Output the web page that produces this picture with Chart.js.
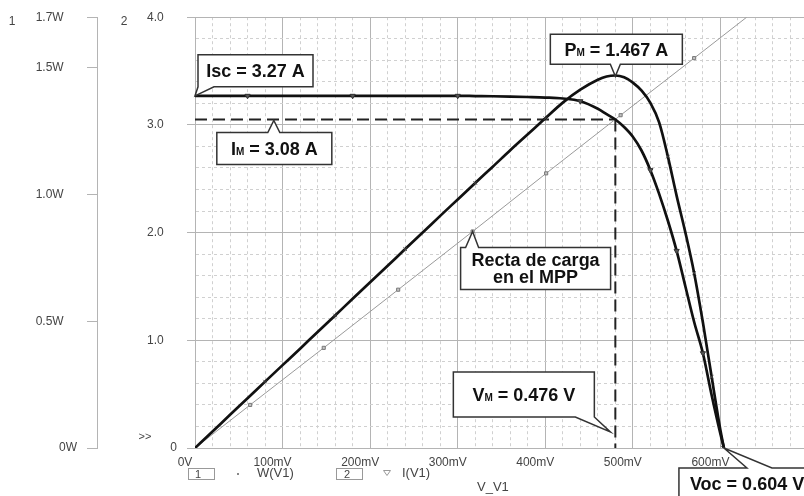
<!DOCTYPE html>
<html>
<head>
<meta charset="utf-8">
<script src="https://cdn.jsdelivr.net/npm/chart.js@4.4.1/dist/chart.umd.min.js"></script>
<style>
  html, body { margin: 0; padding: 0; background: #fff; overflow: hidden; }
  #wrap { width: 804px; height: 496px; overflow: hidden; }
</style>
</head>
<body>
<div id="wrap"><canvas id="chart" width="815" height="496"></canvas></div>
<script>
// sweep voltage (mV), shared by both traces
const vMv = [0, 20, 40, 60, 80, 100, 120, 140, 160, 180, 200, 220, 240, 260, 280, 300, 320, 340, 360, 380,
  400, 420, 440, 460, 470, 480, 490, 500, 510, 520, 530, 540, 550, 560, 570, 580, 590, 600, 604];
const currentA = [3.27, 3.27, 3.27, 3.27, 3.27, 3.27, 3.27, 3.27, 3.27, 3.27, 3.27, 3.27, 3.27, 3.27, 3.27, 3.27, 3.268, 3.266, 3.263, 3.259,
  3.254, 3.245, 3.22, 3.15, 3.10, 3.05, 2.98, 2.89, 2.76, 2.58, 2.36, 2.11, 1.83, 1.50, 1.17, 0.88, 0.49, 0.13, 0];
const powerW = [0, 0.065, 0.131, 0.196, 0.262, 0.327, 0.392, 0.458, 0.523, 0.589, 0.654, 0.719, 0.785, 0.850, 0.916, 0.981, 1.046, 1.110, 1.175, 1.238,
  1.301, 1.363, 1.414, 1.453, 1.466, 1.470, 1.463, 1.442, 1.410, 1.362, 1.285, 1.150, 0.995, 0.850, 0.690, 0.495, 0.280, 0.070, 0];
// load line through the MPP
const loadV = [0, 63, 147, 232, 317, 401, 486, 570, 630];
const loadI = [0, 0.40, 0.93, 1.47, 2.01, 2.55, 3.09, 3.62, 4.0];
// trace markers
const iMarkV = [60, 180, 300, 440, 520, 550, 580];
const pMarkV = [80, 160, 240, 320, 400, 540, 570, 590];
// MPP guides and key values
const mppV = 480, mppI = 3.05, pmW = 1.467, iscA = 3.27, vocMv = 604;
const wTicks = [0, 0.5, 1.0, 1.5, 1.7];

const FONT = "'Liberation Sans', Arial, sans-serif";
Chart.defaults.font.family = FONT;
const GRID = '#b4b4b4', MINOR = '#d0d0d0', TXT = '#444';

const isWhole = v => Math.abs(v - Math.round(v)) < 1e-6;
const xMajor = c => c.tick && Math.round(c.tick.value) % 100 === 0;
const aMajor = c => c.tick && isWhole(c.tick.value);

function calloutPath(ctx, b, tail) {
  const r = b.l + b.w, btm = b.t + b.h;
  ctx.beginPath();
  ctx.moveTo(b.l, b.t);
  if (tail.side === 'top') { ctx.lineTo(tail.a, b.t); ctx.lineTo(tail.tip[0], tail.tip[1]); ctx.lineTo(tail.c, b.t); }
  ctx.lineTo(r, b.t);
  ctx.lineTo(r, btm);
  if (tail.side === 'bottom') { ctx.lineTo(tail.c, btm); ctx.lineTo(tail.tip[0], tail.tip[1]); ctx.lineTo(tail.a, btm); }
  ctx.lineTo(b.l, btm);
  ctx.closePath();
  ctx.fillStyle = '#fff';
  ctx.fill();
  ctx.lineWidth = 1.5;
  ctx.strokeStyle = '#333';
  ctx.stroke();
}

function richText(ctx, parts, x, y, align) {
  let w = 0;
  parts.forEach(([t, s]) => { ctx.font = `bold ${s}px ${FONT}`; w += ctx.measureText(t).width; });
  let cx = align === 'left' ? x : x - w / 2;
  ctx.textAlign = 'left';
  ctx.textBaseline = 'alphabetic';
  ctx.fillStyle = '#111';
  parts.forEach(([t, s]) => {
    ctx.font = `bold ${s}px ${FONT}`;
    ctx.fillText(t, cx, y);
    cx += ctx.measureText(t).width;
  });
}

const overlay = {
  id: 'overlay',
  afterDatasetsDraw(chart) {
    const { ctx, scales: { x, yA, yW } } = chart;
    ctx.save();

    // Isc
    let tip = [x.getPixelForValue(0), yA.getPixelForValue(iscA)];
    let b = { l: tip[0] + 3, t: tip[1] - 41, w: 115, h: 32 };
    calloutPath(ctx, b, { side: 'bottom', a: b.l, c: b.l + 16, tip });
    richText(ctx, [['Isc = 3.27 A', 18]], b.l + b.w / 2, b.t + b.h / 2 + 6.5);

    // IM
    tip = [x.getPixelForValue(90), yA.getPixelForValue(mppI) + 1];
    b = { l: tip[0] - 57, t: tip[1] + 12, w: 115, h: 32 };
    calloutPath(ctx, b, { side: 'top', a: tip[0] - 6, c: tip[0] + 6, tip });
    richText(ctx, [['I', 18], ['M', 10], [' = 3.08 A', 18]], b.l + b.w / 2, b.t + b.h / 2 + 6.5);

    // PM
    tip = [x.getPixelForValue(mppV), yW.getPixelForValue(pmW)];
    b = { l: tip[0] - 65, t: tip[1] - 42, w: 132, h: 30 };
    calloutPath(ctx, b, { side: 'bottom', a: tip[0] - 5, c: tip[0] + 5, tip });
    richText(ctx, [['P', 18], ['M', 10], [' = 1.467 A', 18]], b.l + b.w / 2, b.t + b.h / 2 + 6.5);

    // load line note
    tip = [x.getPixelForValue(loadV[4]), yA.getPixelForValue(loadI[4])];
    b = { l: tip[0] - 12, t: tip[1] + 16, w: 150, h: 42 };
    calloutPath(ctx, b, { side: 'top', a: tip[0] - 7, c: tip[0] + 6, tip });
    richText(ctx, [['Recta de carga', 18]], b.l + b.w / 2, b.t + 12 + 6.5);
    richText(ctx, [['en el MPP', 18]], b.l + b.w / 2, b.t + 29 + 6.5);

    // VM
    tip = [x.getPixelForValue(mppV) - 5, yA.getPixelForValue(0) - 16];
    b = { l: tip[0] - 157, t: tip[1] - 60, w: 141, h: 45 };
    calloutPath(ctx, b, { side: 'bottom', a: b.l + b.w - 19, c: b.l + b.w, tip });
    richText(ctx, [['V', 18], ['M', 10], [' = 0.476 V', 18]], b.l + b.w / 2, b.t + 22 + 6.5);

    // Voc
    tip = [x.getPixelForValue(vocMv), yA.getPixelForValue(0)];
    b = { l: tip[0] - 45, t: tip[1] + 20, w: 160, h: 40 };
    calloutPath(ctx, b, { side: 'top', a: tip[0] + 23, c: tip[0] + 48, tip });
    richText(ctx, [['Voc = 0.604 V', 18]], b.l + 11, b.t + 15 + 6.5, 'left');

    // axis ids, legend row, x title
    ctx.fillStyle = TXT;
    ctx.textBaseline = 'middle';
    ctx.textAlign = 'center';
    ctx.font = `12px ${FONT}`;
    ctx.fillText('1', 12, 22);
    ctx.fillText('2', 124, 22);
    ctx.font = `11px ${FONT}`;
    ctx.fillText('>>', 145, 437);

    ctx.strokeStyle = '#999';
    ctx.lineWidth = 1;
    ctx.strokeRect(188.5, 468.5, 26, 11);
    ctx.strokeRect(336.5, 468.5, 26, 11);
    ctx.fillText('1', 198, 474.5);
    ctx.fillText('2', 347, 474.5);
    ctx.fillStyle = '#888';
    ctx.fillRect(237, 473, 2, 2);
    ctx.beginPath();
    ctx.moveTo(383.5, 470.5); ctx.lineTo(390.5, 470.5); ctx.lineTo(387, 475.5); ctx.closePath();
    ctx.stroke();
    ctx.fillStyle = TXT;
    ctx.textAlign = 'left';
    ctx.font = `13px ${FONT}`;
    ctx.fillText('W(V1)', 257, 473.5);
    ctx.fillText('I(V1)', 402, 473.5);
    ctx.fillText('V_V1', 477, 487);
    ctx.restore();
  }
};

const ctx = document.getElementById('chart').getContext('2d');
new Chart(ctx, {
  type: 'line',
  data: {
    datasets: [
      {
        label: 'I(V1)', yAxisID: 'yA',
        data: vMv.map((v, k) => ({ x: v, y: currentA[k] })),
        borderColor: '#111', borderWidth: 2.7, cubicInterpolationMode: 'monotone',
        pointStyle: 'triangle', rotation: 180,
        pointRadius: vMv.map(v => iMarkV.includes(v) ? 3 : 0),
        pointBackgroundColor: '#555', pointBorderColor: '#333', pointBorderWidth: 1
      },
      {
        label: 'W(V1)', yAxisID: 'yW',
        data: vMv.map((v, k) => ({ x: v, y: powerW[k] })),
        borderColor: '#111', borderWidth: 2.7, cubicInterpolationMode: 'monotone',
        pointStyle: 'crossRot',
        pointRadius: vMv.map(v => pMarkV.includes(v) ? 2.5 : 0),
        pointBorderColor: '#444', pointBorderWidth: 1
      },
      {
        label: 'load', yAxisID: 'yA',
        data: loadV.map((v, k) => ({ x: v, y: loadI[k] })),
        borderColor: '#9a9a9a', borderWidth: 1,
        pointStyle: 'rect',
        pointRadius: loadV.map((v, k) => (k === 0 || k === loadV.length - 1) ? 0 : 2.2),
        pointBackgroundColor: '#c4c4c4', pointBorderColor: '#777', pointBorderWidth: 1
      },
      {
        label: 'IM', yAxisID: 'yA',
        data: [{ x: 0, y: mppI }, { x: mppV, y: mppI }],
        borderColor: '#222', borderWidth: 2, borderDash: [12, 6], pointRadius: 0
      },
      {
        label: 'VM', yAxisID: 'yA',
        data: [{ x: mppV, y: mppI }, { x: mppV, y: 0 }],
        borderColor: '#222', borderWidth: 2, borderDash: [12, 6], pointRadius: 0
      }
    ]
  },
  options: {
    responsive: false,
    animation: false,
    layout: { padding: { top: 15, left: 0, right: 0, bottom: 0 } },
    plugins: { legend: { display: false }, tooltip: { enabled: false } },
    scales: {
      x: {
        type: 'linear', min: 0, max: 700,
        afterFit: s => { s.height = 48; },
        ticks: {
          stepSize: 20, autoSkip: false, maxRotation: 0, padding: 7, labelOffset: -10,
          color: TXT, font: { size: 12 },
          callback: v => {
            const m = Math.round(v);
            if (m % 100 !== 0 || m >= 700) return '';
            return m === 0 ? '0V' : m + 'mV';
          }
        },
        grid: { color: c => xMajor(c) ? GRID : MINOR, lineWidth: 1, drawTicks: false },
        border: { display: true, color: GRID, dash: c => (c.tick && !xMajor(c)) ? [3, 3] : [] }
      },
      yA: {
        position: 'left', weight: 0, min: 0, max: 4,
        afterFit: s => { s.width = 98; },
        ticks: {
          stepSize: 0.2, autoSkip: false, padding: 10, color: TXT, font: { size: 12 },
          callback: v => isWhole(v) ? (Math.round(v) === 0 ? '0' : v.toFixed(1) + '    ') : ''
        },
        grid: {
          color: c => aMajor(c) ? GRID : MINOR, lineWidth: 1, tickLength: 8,
          tickColor: c => aMajor(c) ? GRID : 'rgba(0,0,0,0)'
        },
        border: { display: true, color: GRID, dash: c => (c.tick && !aMajor(c)) ? [3, 3] : [] }
      },
      yW: {
        position: 'left', weight: 1, min: 0, max: 1.7,
        afterFit: s => { s.width = 97; },
        afterBuildTicks: s => { s.ticks = wTicks.map(v => ({ value: v })); },
        ticks: {
          autoSkip: false, padding: 10, color: TXT, font: { size: 12 },
          callback: v => v === 0 ? '0W' : v.toFixed(1) + 'W    '
        },
        grid: { drawOnChartArea: false, tickLength: 10, tickColor: GRID },
        border: { display: true, color: GRID }
      }
    }
  },
  plugins: [overlay]
});
</script>
</body>
</html>
